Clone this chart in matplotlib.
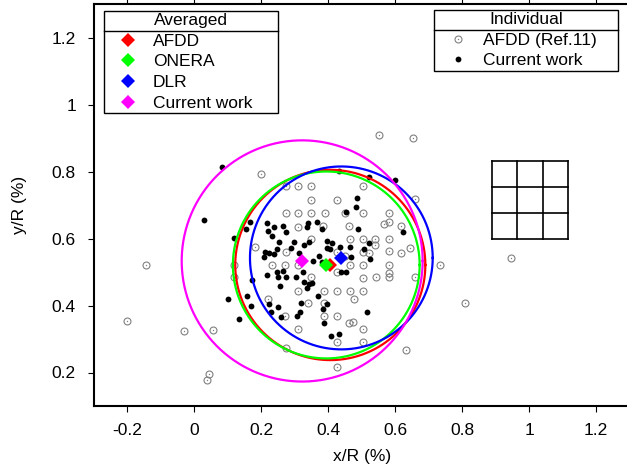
import matplotlib
matplotlib.use("Agg")
import matplotlib.pyplot as plt
import numpy as np
from matplotlib.lines import Line2D

plt.rcParams['font.family'] = ['Liberation Sans', 'DejaVu Sans']
plt.rcParams['font.size'] = 12.5

# individual points, AFDD (Ref.11)
afdd_x = [-0.200, -0.146, -0.030, 0.057, 0.045, 0.039, 0.552, 0.654, 0.660, 0.734,
          0.660, 0.809, 0.946, 0.633, 0.427, 0.275, 0.200, 0.275, 0.310, 0.349,
          0.504, 0.349, 0.427, 0.275, 0.310, 0.349, 0.391, 0.451, 0.504, 0.582,
          0.310, 0.385, 0.463, 0.567, 0.582, 0.618, 0.182, 0.275, 0.349, 0.466,
          0.504, 0.540, 0.582, 0.540, 0.427, 0.504, 0.522, 0.582, 0.618, 0.645,
          0.451, 0.119, 0.233, 0.272, 0.310, 0.466, 0.504, 0.582, 0.427, 0.119,
          0.349, 0.582, 0.582, 0.504, 0.543, 0.310, 0.388, 0.427, 0.466, 0.504,
          0.340, 0.388, 0.478, 0.221, 0.272, 0.388, 0.427, 0.463, 0.475, 0.504,
          0.310, 0.427, 0.504]
afdd_y = [0.353, 0.521, 0.323, 0.326, 0.197, 0.179, 0.909, 0.900, 0.717, 0.521,
          0.485, 0.407, 0.542, 0.266, 0.215, 0.272, 0.792, 0.756, 0.756, 0.756,
          0.756, 0.714, 0.714, 0.677, 0.677, 0.677, 0.677, 0.677, 0.677, 0.677,
          0.635, 0.638, 0.638, 0.644, 0.650, 0.638, 0.575, 0.560, 0.599, 0.599,
          0.599, 0.599, 0.599, 0.581, 0.560, 0.560, 0.557, 0.563, 0.557, 0.572,
          0.548, 0.521, 0.521, 0.521, 0.521, 0.521, 0.521, 0.521, 0.500, 0.485,
          0.485, 0.497, 0.485, 0.482, 0.485, 0.443, 0.443, 0.443, 0.443, 0.443,
          0.407, 0.407, 0.419, 0.419, 0.368, 0.368, 0.368, 0.347, 0.350, 0.329,
          0.329, 0.290, 0.290]

# individual points, current work
cur_x = [0.081, 0.030, 0.101, 0.119, 0.167, 0.155, 0.218, 0.239, 0.266, 0.221,
         0.275, 0.233, 0.254, 0.299, 0.328, 0.343, 0.337, 0.340, 0.367, 0.382,
         0.454, 0.484, 0.487, 0.490, 0.397, 0.412, 0.397, 0.406, 0.436, 0.466,
         0.212, 0.224, 0.239, 0.209, 0.248, 0.290, 0.313, 0.373, 0.355, 0.382,
         0.218, 0.248, 0.266, 0.251, 0.275, 0.304, 0.325, 0.328, 0.343, 0.337,
         0.352, 0.257, 0.173, 0.158, 0.170, 0.134, 0.224, 0.251, 0.230, 0.260,
         0.307, 0.316, 0.319, 0.370, 0.397, 0.385, 0.388, 0.409, 0.433, 0.439,
         0.454, 0.469, 0.433, 0.522, 0.600, 0.624, 0.522, 0.507, 0.525, 0.516]
cur_y = [0.813, 0.656, 0.419, 0.602, 0.650, 0.629, 0.647, 0.635, 0.638, 0.623,
         0.620, 0.608, 0.590, 0.590, 0.581, 0.590, 0.635, 0.647, 0.650, 0.629,
         0.680, 0.695, 0.722, 0.629, 0.593, 0.587, 0.572, 0.569, 0.575, 0.575,
         0.560, 0.557, 0.554, 0.545, 0.569, 0.572, 0.557, 0.548, 0.533, 0.530,
         0.491, 0.500, 0.503, 0.485, 0.485, 0.485, 0.500, 0.470, 0.464, 0.452,
         0.467, 0.458, 0.476, 0.428, 0.398, 0.359, 0.404, 0.395, 0.380, 0.365,
         0.368, 0.380, 0.407, 0.428, 0.404, 0.389, 0.347, 0.308, 0.314, 0.500,
         0.500, 0.545, 0.801, 0.783, 0.774, 0.620, 0.587, 0.569, 0.539, 0.380]

# averaged results: centre and circle radius
avg_names = ["AFDD", "ONERA", "DLR", "Current work"]
avg_colors = ["#ff0000", "#00ff00", "#0000ff", "#ff00ff"]
avg_x = [0.406, 0.394, 0.439, 0.322]
avg_y = [0.521, 0.521, 0.542, 0.533]
avg_r = [0.284, 0.279, 0.273, 0.360]

# little 3x3 grid on the right
grid_x = [0.888, 0.964, 1.041, 1.117]
grid_y = [0.600, 0.677, 0.754, 0.831]

xticks = [-0.2, 0, 0.2, 0.4, 0.6, 0.8, 1, 1.2]
xlabels = ["-0.2", "0", "0.2", "0.4", "0.6", "0.8", "1", "1.2"]
yticks = [0.2, 0.4, 0.6, 0.8, 1, 1.2]
ylabels = ["0.2", "0.4", "0.6", "0.8", "1", "1.2"]

fig = plt.figure(figsize=(6.27, 4.72), dpi=100)
ax = fig.add_axes([94 / 627, 66 / 472, 535.5 / 627, 402 / 472])

g_ring, = ax.plot(afdd_x, afdd_y, 'o', ls='none', mfc='none', mec='#808080', ms=5, mew=0.8)
g_dot, = ax.plot(afdd_x, afdd_y, 'o', ls='none', color='#808080', ms=1.0, mew=0)
b_dot, = ax.plot(cur_x, cur_y, 'o', ls='none', color='black', ms=4.2, mew=0)

t = np.linspace(0, 2 * np.pi, 400)
for cx, cy, r, c in zip(avg_x, avg_y, avg_r, avg_colors):
    ax.plot(cx + r * np.cos(t), cy + r * np.sin(t), color=c, lw=1.6)

diamonds = []
for cx, cy, c in zip(avg_x, avg_y, avg_colors):
    h, = ax.plot([cx], [cy], 'D', ls='none', color=c, ms=7.5, mew=0)
    diamonds.append(h)

for gx in grid_x:
    ax.plot([gx, gx], [grid_y[0], grid_y[-1]], color='black', lw=1.2)
for gy in grid_y:
    ax.plot([grid_x[0], grid_x[-1]], [gy, gy], color='black', lw=1.2)

ax.set_xlim(-0.3, 1.3)
ax.set_ylim(0.1, 1.3)
ax.set_xticks(xticks)
ax.set_xticklabels(xlabels)
ax.set_yticks(yticks)
ax.set_yticklabels(ylabels)
ax.tick_params(direction='out', length=4, width=0.8, labelsize=12.5,
               top=True, right=True)
ax.tick_params(axis='x', pad=8)
ax.tick_params(axis='y', pad=9)
for s in ax.spines.values():
    s.set_linewidth(1.5)
ax.set_xlabel("x/R (%)", fontsize=12.5, labelpad=8)
ax.set_ylabel("y/R (%)", fontsize=12.5, labelpad=18)

leg_kw = dict(loc='upper left', mode='expand', bbox_transform=fig.transFigure,
              fontsize=12.5, title_fontsize=12.5, frameon=True, fancybox=False,
              framealpha=1, edgecolor='black', borderpad=0.12, labelspacing=0.32,
              handlelength=2.55, handletextpad=0.15, borderaxespad=0)
leg1 = fig.legend(diamonds, avg_names, title="Averaged",
                  bbox_to_anchor=(104 / 627, 0.5, 174 / 627, 1 - 11 / 472 - 0.5), **leg_kw)
leg2 = fig.legend([(g_ring, g_dot), b_dot], ["AFDD (Ref.11)", "Current work"], title="Individual",
                  bbox_to_anchor=(434 / 627, 0.5, 184 / 627, 1 - 10 / 472 - 0.5), **leg_kw)
for lg in (leg1, leg2):
    lg.get_frame().set_linewidth(1.0)

# separator line under the legend titles
fig.canvas.draw()
for lg in (leg1, leg2):
    tb = lg.get_title().get_window_extent()
    eb = lg.get_texts()[0].get_window_extent()
    fb = lg.get_frame().get_window_extent()
    ymid = (tb.y0 + eb.y1) / 2
    fig.add_artist(Line2D([fb.x0 / fig.bbox.width, fb.x1 / fig.bbox.width],
                          [ymid / fig.bbox.height, ymid / fig.bbox.height],
                          transform=fig.transFigure, color='black', lw=1.0, zorder=10))

fig.savefig("out.png", dpi=100)
